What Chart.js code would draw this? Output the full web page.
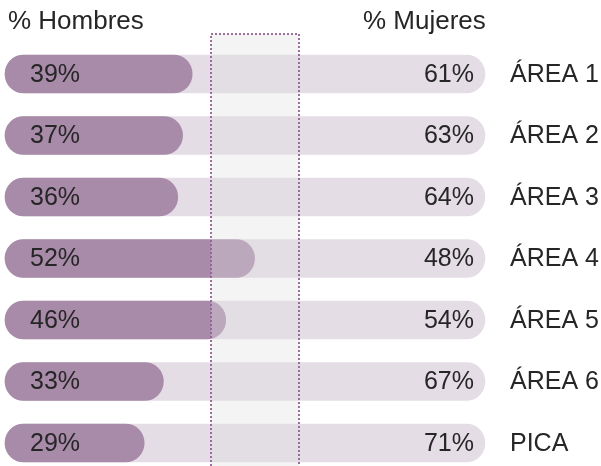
<!DOCTYPE html>
<html>
<head>
<meta charset="utf-8">
<script src="https://cdn.jsdelivr.net/npm/chart.js@4"></script>
<style>
  body { margin: 0; background: #fff; }
  canvas { display: block; }
</style>
</head>
<body>
<canvas id="genderChart" width="601" height="466"></canvas>
<script>
// Datos
const areas = ['ÁREA 1', 'ÁREA 2', 'ÁREA 3', 'ÁREA 4', 'ÁREA 5', 'ÁREA 6', 'PICA'];
const hombres = [39, 37, 36, 52, 46, 33, 29];
const mujeres = [61, 63, 64, 48, 54, 67, 71];
const headers = ['% Hombres', '% Mujeres'];
// zona de equilibrio (banda punteada)
const bandRange = [43, 61.2];

const darkColor = '#a88aa9';
const lightColor = '#e5dde6';
const textColor = '#262626';
const fontFamily = '"Liberation Sans", Arial, sans-serif';

const totals = hombres.map((h, i) => h + mujeres[i]);

// banda gris con borde punteado, encima de las barras
const bandPlugin = {
    id: 'band',
    afterDatasetsDraw(chart) {
        const c = chart.ctx;
        const x = chart.scales.x;
        const x1 = Math.round(x.getPixelForValue(bandRange[0]));
        const x2 = Math.round(x.getPixelForValue(bandRange[1]));
        const top = 34;
        const bottom = chart.height;
        c.save();
        c.fillStyle = 'rgba(223,223,223,0.35)';
        c.fillRect(x1, top, x2 - x1, bottom - top);
        c.strokeStyle = 'rgba(145,95,150,0.9)';
        c.lineWidth = 2;
        c.setLineDash([2, 2]);
        c.beginPath();
        c.moveTo(x1, bottom);
        c.lineTo(x1, top);
        c.lineTo(x2, top);
        c.lineTo(x2, bottom);
        c.stroke();
        c.restore();
    }
};

// etiquetas de porcentaje y cabeceras
const labelPlugin = {
    id: 'labels',
    afterDatasetsDraw(chart) {
        const c = chart.ctx;
        const x = chart.scales.x;
        const meta = chart.getDatasetMeta(1);
        c.save();
        c.font = '25px ' + fontFamily;
        c.fillStyle = textColor;
        c.textBaseline = 'middle';
        meta.data.forEach((bar, i) => {
            c.textAlign = 'left';
            c.fillText(hombres[i] + '%', 30, bar.y + 1);
            c.textAlign = 'right';
            c.fillText(mujeres[i] + '%', x.getPixelForValue(100) - 11, bar.y + 1);
        });
        c.font = '26px ' + fontFamily;
        c.textBaseline = 'alphabetic';
        c.textAlign = 'left';
        c.fillText(headers[0], 8, 29);
        c.fillText(headers[1], 363, 29);
        c.restore();
    }
};

new Chart(document.getElementById('genderChart'), {
    type: 'bar',
    data: {
        labels: areas,
        datasets: [
            {
                label: 'Total',
                data: totals,
                backgroundColor: lightColor,
                barThickness: 38,
                borderRadius: 19,
                borderSkipped: false,
                grouped: false,
                clip: false,
                order: 2
            },
            {
                label: 'Hombres',
                data: hombres,
                backgroundColor: darkColor,
                barThickness: 38,
                borderRadius: 19,
                borderSkipped: false,
                grouped: false,
                clip: false,
                order: 1
            }
        ]
    },
    options: {
        responsive: false,
        animation: false,
        indexAxis: 'y',
        layout: { padding: { left: 5, right: 0, top: 74, bottom: 23 } },
        plugins: {
            legend: { display: false },
            tooltip: { enabled: false }
        },
        scales: {
            x: { display: false, min: 0, max: 100 },
            y: {
                position: 'right',
                offset: false,
                grid: { display: false, drawTicks: false },
                border: { display: false },
                ticks: {
                    color: textColor,
                    font: { family: fontFamily, size: 25 },
                    padding: 25,
                    labelOffset: 1,
                    crossAlign: 'near'
                },
                afterFit(scale) {
                    scale.width = 116;
                    scale.paddingTop = 0;
                    scale.paddingBottom = 0;
                }
            }
        }
    },
    plugins: [bandPlugin, labelPlugin]
});
</script>
</body>
</html>
